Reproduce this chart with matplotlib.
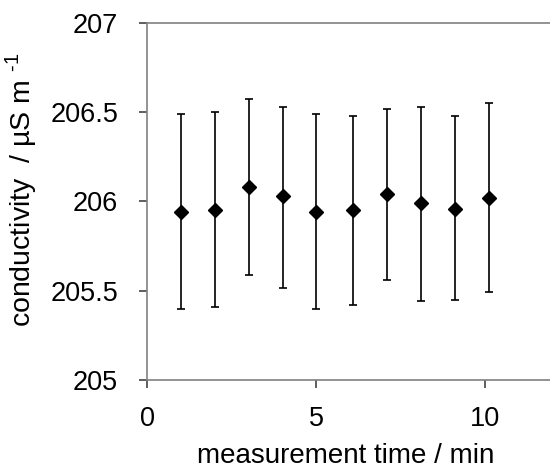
import matplotlib
matplotlib.use('Agg')
import matplotlib.pyplot as plt

time_min = [1.0, 2.0, 3.0, 4.0, 5.0, 6.1, 7.1, 8.1, 9.1, 10.1]
conductivity = [205.94, 205.95, 206.08, 206.03, 205.94, 205.95, 206.04, 205.99, 205.96, 206.02]
upper = [206.49, 206.50, 206.575, 206.53, 206.49, 206.48, 206.515, 206.53, 206.475, 206.55]
lower = [205.40, 205.41, 205.59, 205.515, 205.40, 205.42, 205.56, 205.445, 205.45, 205.49]

x_ticks = [0, 5, 10]
y_ticks = [205, 205.5, 206, 206.5, 207]
y_ticklabels = ['205', '205.5', '206', '206.5', '207']

plt.rcParams['font.family'] = ['Liberation Sans', 'DejaVu Sans']
plt.rcParams['mathtext.fontset'] = 'custom'
plt.rcParams['mathtext.rm'] = 'Liberation Sans'

fig = plt.figure(figsize=(5.5, 4.68), dpi=100)
ax = fig.add_axes([0.268, 0.188, 0.737, 0.7635])

err_low = [c - l for c, l in zip(conductivity, lower)]
err_up = [u - c for c, u in zip(conductivity, upper)]
ax.errorbar(time_min, conductivity, yerr=[err_low, err_up], fmt='D',
            color='black', markersize=7, elinewidth=1.2, capsize=3,
            capthick=1.2)

ax.set_xlim(0, 12)
ax.set_ylim(205, 207)
ax.set_xticks(x_ticks)
ax.set_yticks(y_ticks)
ax.set_yticklabels(y_ticklabels)

for side in ['left', 'bottom', 'top', 'right']:
    ax.spines[side].set_color('#808080')
    ax.spines[side].set_linewidth(1.2)

ax.tick_params(direction='out', length=6, width=1.1, color='#333333',
               labelsize=19.5)
ax.tick_params(axis='x', pad=13)
ax.tick_params(axis='y', pad=15)

ax.set_xlabel('measurement time / min', fontsize=20)
ax.set_ylabel('conductivity  / µS m $^{\\mathregular{\u20101}}$', fontsize=20.5)
ax.xaxis.set_label_coords(0.49, -0.175)
ax.yaxis.set_label_coords(-0.268, 0.532)

fig.savefig('out.png', dpi=100)
